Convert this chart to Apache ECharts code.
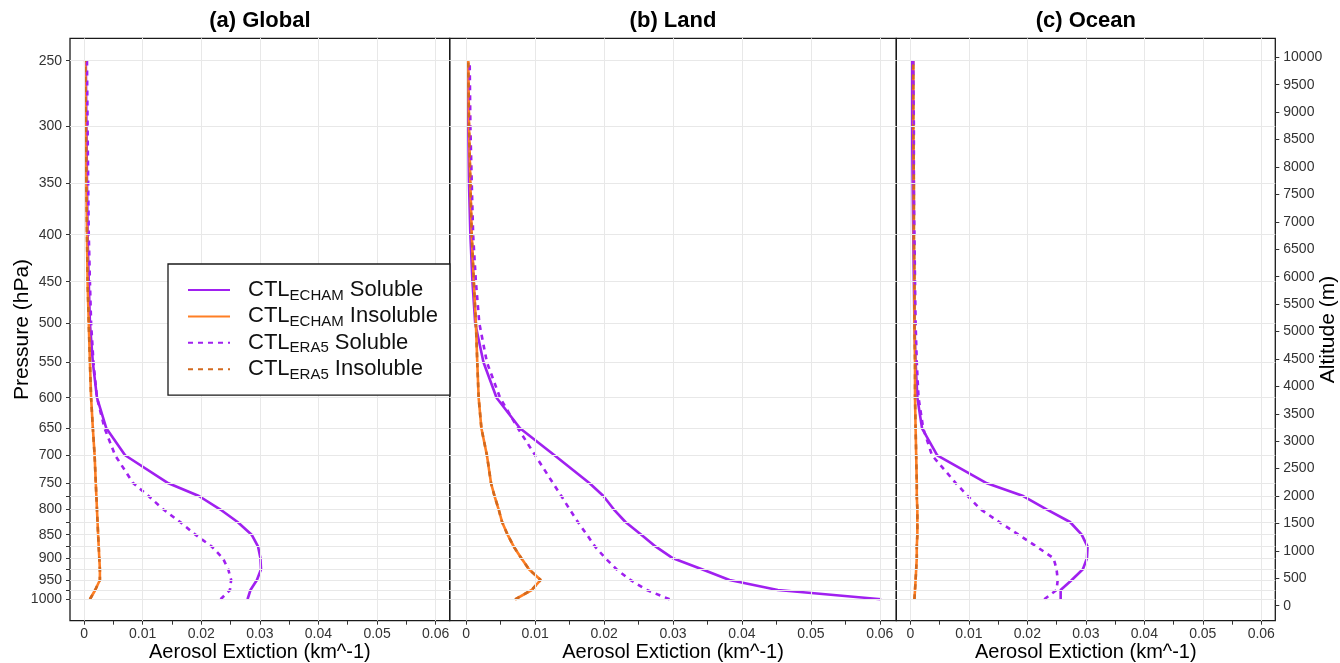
<!DOCTYPE html>
<html>
<head>
<meta charset="utf-8">
<script src="https://cdn.jsdelivr.net/npm/echarts@6/dist/echarts.min.js"></script>
<style>html,body{margin:0;padding:0;background:#fff;}#chart{width:1340px;height:663px;}</style>
</head>
<body>
<div id="chart"></div>
<script>
// ---- data (levels ordered from surface upward) ----
const pressureLevels = [1000, 975, 950, 925, 900, 875, 850, 825, 800, 775, 750, 700, 650, 600, 550, 500, 450, 400, 350, 300, 250];
const levelAltitude = [117, 286, 469, 664, 864, 1076, 1295, 1526, 1758, 2000, 2232, 2743, 3235, 3793, 4438, 5150, 5908, 6765, 7702, 8742, 9938];
const pressureTickLabels = [1000, 950, 900, 850, 800, 750, 700, 650, 600, 550, 500, 450, 400, 350, 300, 250];
const altitudeTicks = [0, 500, 1000, 1500, 2000, 2500, 3000, 3500, 4000, 4500, 5000, 5500, 6000, 6500, 7000, 7500, 8000, 8500, 9000, 9500, 10000];
const extinctionLabelTicks = [0, 0.01, 0.02, 0.03, 0.04, 0.05, 0.06];
const extinctionMinorTicks = [0, 0.005, 0.01, 0.015, 0.02, 0.025, 0.03, 0.035, 0.04, 0.045, 0.05, 0.055, 0.06];

const panelTitles = ['(a) Global', '(b) Land', '(c) Ocean'];
const seriesNames = ['CTL_ECHAM Soluble', 'CTL_ECHAM Insoluble', 'CTL_ERA5 Soluble', 'CTL_ERA5 Insoluble'];

// Global
const globalEchamSoluble   = [0.0279, 0.0284, 0.0295, 0.0302, 0.0301, 0.0297, 0.0286, 0.0262, 0.0232, 0.0196, 0.0144, 0.0070, 0.0038, 0.0022, 0.0015, 0.0010, 0.0008, 0.0006, 0.0005, 0.0004, 0.0003];
const globalEchamInsoluble = [0.0010, 0.0019, 0.0027, 0.0027, 0.0026, 0.0025, 0.0024, 0.0023, 0.0022, 0.0021, 0.0020, 0.0018, 0.0015, 0.0012, 0.0010, 0.0008, 0.0006, 0.0005, 0.0004, 0.0003, 0.0002];
const globalEra5Soluble    = [0.0233, 0.0249, 0.0251, 0.0246, 0.0237, 0.0218, 0.0190, 0.0164, 0.0135, 0.0110, 0.0084, 0.0053, 0.0035, 0.0022, 0.0016, 0.0012, 0.0010, 0.0008, 0.0007, 0.0006, 0.0005];
const globalEra5Insoluble  = [0.0010, 0.0019, 0.0027, 0.0027, 0.0026, 0.0025, 0.0024, 0.0023, 0.0022, 0.0021, 0.0020, 0.0018, 0.0015, 0.0012, 0.0010, 0.0008, 0.0006, 0.0005, 0.0004, 0.0003, 0.0002];
// Land
const landEchamSoluble     = [0.0602, 0.0452, 0.0382, 0.0342, 0.0300, 0.0275, 0.0254, 0.0231, 0.0214, 0.0199, 0.0179, 0.0128, 0.0078, 0.0044, 0.0025, 0.0013, 0.0009, 0.0006, 0.0004, 0.0003, 0.0002];
const landEchamInsoluble   = [0.0071, 0.0095, 0.0108, 0.0091, 0.0080, 0.0069, 0.0060, 0.0052, 0.0047, 0.0041, 0.0036, 0.0030, 0.0022, 0.0018, 0.0016, 0.0014, 0.0011, 0.0008, 0.0006, 0.0004, 0.0003];
const landEra5Soluble      = [0.0295, 0.0262, 0.0238, 0.0218, 0.0202, 0.0187, 0.0175, 0.0162, 0.0150, 0.0138, 0.0126, 0.0100, 0.0075, 0.0049, 0.0030, 0.0019, 0.0014, 0.0010, 0.0008, 0.0006, 0.0005];
const landEra5Insoluble    = [0.0071, 0.0095, 0.0108, 0.0091, 0.0080, 0.0069, 0.0060, 0.0052, 0.0047, 0.0041, 0.0036, 0.0030, 0.0022, 0.0018, 0.0016, 0.0014, 0.0011, 0.0008, 0.0006, 0.0004, 0.0003];
// Ocean
const oceanEchamSoluble    = [0.0257, 0.0257, 0.0276, 0.0295, 0.0302, 0.0303, 0.0293, 0.0273, 0.0233, 0.0193, 0.0131, 0.0046, 0.0020, 0.0012, 0.0009, 0.0007, 0.0006, 0.0005, 0.0004, 0.0003, 0.0003];
const oceanEchamInsoluble  = [0.0007, 0.0008, 0.0009, 0.0010, 0.0011, 0.0011, 0.0012, 0.0012, 0.0012, 0.0011, 0.0011, 0.0010, 0.0009, 0.0008, 0.0008, 0.0007, 0.0007, 0.0006, 0.0006, 0.0005, 0.0005];
const oceanEra5Soluble     = [0.0229, 0.0250, 0.0252, 0.0250, 0.0245, 0.0216, 0.0185, 0.0152, 0.0120, 0.0098, 0.0078, 0.0037, 0.0022, 0.0014, 0.0011, 0.0009, 0.0008, 0.0007, 0.0006, 0.0006, 0.0005];
const oceanEra5Insoluble   = [0.0007, 0.0008, 0.0009, 0.0010, 0.0011, 0.0011, 0.0012, 0.0012, 0.0012, 0.0011, 0.0011, 0.0010, 0.0009, 0.0008, 0.0008, 0.0007, 0.0007, 0.0006, 0.0006, 0.0005, 0.0005];

const panelData = [
  [globalEchamSoluble, globalEchamInsoluble, globalEra5Soluble, globalEra5Insoluble],
  [landEchamSoluble, landEchamInsoluble, landEra5Soluble, landEra5Insoluble],
  [oceanEchamSoluble, oceanEchamInsoluble, oceanEra5Soluble, oceanEra5Insoluble]
];

// ---- styling / layout ----
const FONT = '"Liberation Sans", Arial, sans-serif';
const seriesColors = ['#A020F0', '#FF7F24', '#A020F0', '#D2691E'];
const seriesDash = ['solid', 'solid', [5, 5], [5, 5]];
const gridBoxes = [
  { left: 70, width: 379.7 },
  { left: 449.7, width: 446.6 },
  { left: 896.3, width: 379 }
];
const TOP = 38.3, HEIGHT = 582.4;
const X_MIN = -0.0024, X_MAX = 0.0624;
const Y_MIN = -274, Y_MAX = 10347;

function pressureFor(alt) {
  for (let i = 0; i < levelAltitude.length; i++) {
    if (Math.abs(levelAltitude[i] - alt) < 0.5) return String(pressureLevels[i]);
  }
  return '';
}
const pressureLabelAlts = pressureTickLabels.map(p => levelAltitude[pressureLevels.indexOf(p)]);

const grids = gridBoxes.map(g => ({
  left: g.left, width: g.width, top: TOP, height: HEIGHT,
  outerBoundsMode: 'none', containLabel: false,
  show: true, borderColor: '#1a1a1a', borderWidth: 1.3, backgroundColor: 'transparent'
}));

const xAxes = gridBoxes.map((g, i) => ({
  type: 'value', gridIndex: i, min: X_MIN, max: X_MAX, position: 'bottom',
  name: 'Aerosol Extiction (km^-1)', nameLocation: 'middle', nameGap: 22, nameMoveOverlap: false,
  nameTextStyle: { fontFamily: FONT, fontSize: 20, color: '#000' },
  axisLine: { show: false, onZero: false },
  splitLine: { show: false },
  axisTick: { show: true, length: 4, customValues: extinctionMinorTicks, lineStyle: { color: '#333', width: 1 } },
  axisLabel: {
    customValues: extinctionLabelTicks, margin: 6,
    fontFamily: FONT, fontSize: 14, color: '#333',
    formatter: v => (v === 0 ? '0' : v.toFixed(2))
  }
}));

const yAxes = [
  {
    type: 'value', gridIndex: 0, min: Y_MIN, max: Y_MAX, position: 'left',
    name: 'Pressure (hPa)', nameLocation: 'middle', nameRotate: 90, nameGap: 37, nameMoveOverlap: false,
    nameTextStyle: { fontFamily: FONT, fontSize: 21, color: '#000' },
    axisLine: { show: false, onZero: false }, splitLine: { show: false },
    axisTick: { show: true, length: 4, customValues: levelAltitude, lineStyle: { color: '#333', width: 1 } },
    axisLabel: { customValues: pressureLabelAlts, margin: 8, fontFamily: FONT, fontSize: 14, color: '#333', formatter: v => pressureFor(v) }
  },
  {
    type: 'value', gridIndex: 1, min: Y_MIN, max: Y_MAX, show: false,
    axisLine: { show: false, onZero: false }
  },
  {
    type: 'value', gridIndex: 2, min: Y_MIN, max: Y_MAX, position: 'right',
    name: 'Altitude (m)', nameLocation: 'middle', nameRotate: 90, nameGap: 42, nameMoveOverlap: false,
    nameTextStyle: { fontFamily: FONT, fontSize: 21, color: '#000' },
    axisLine: { show: false, onZero: false }, splitLine: { show: false },
    axisTick: { show: true, length: 4, customValues: altitudeTicks, lineStyle: { color: '#333', width: 1 } },
    axisLabel: { customValues: altitudeTicks, margin: 8, fontFamily: FONT, fontSize: 14, color: '#333', formatter: v => String(v) }
  }
];

const series = [];
panelData.forEach((arrs, gi) => {
  // background grid lines at tick values (via the axes' own scales)
  series.push({
    type: 'line', xAxisIndex: gi, yAxisIndex: gi, data: [], silent: true, z: 1,
    markLine: {
      silent: true, symbol: ['none', 'none'], animation: false,
      label: { show: false },
      lineStyle: { color: '#E8E8E8', width: 1, type: 'solid' },
      emphasis: { disabled: true },
      data: extinctionMinorTicks.map(v => ({ xAxis: v })).concat(levelAltitude.map(a => ({ yAxis: a })))
    }
  });
  arrs.forEach((vals, si) => {
    series.push({
      name: seriesNames[si], type: 'line', xAxisIndex: gi, yAxisIndex: gi,
      data: vals.map((v, k) => [v, levelAltitude[k]]),
      showSymbol: false, symbol: 'none', z: 2, zlevel: 0,
      color: seriesColors[si],
      lineStyle: { color: seriesColors[si], width: 2.6, type: seriesDash[si] },
      emphasis: { disabled: true }
    });
  });
});

const titles = panelTitles.map((t, i) => ({
  text: t, left: gridBoxes[i].left + gridBoxes[i].width / 2 - 5, top: 5, textAlign: 'center',
  textStyle: { fontFamily: FONT, fontSize: 22, fontWeight: 'bold', color: '#000' }
}));

const legendRich = {
  m: { fontFamily: FONT, fontSize: 22, color: '#111', lineHeight: 26 },
  p: { fontFamily: FONT, fontSize: 22, color: '#111', lineHeight: 26, padding: [0, 0, 0, 13] },
  s: { fontFamily: FONT, fontSize: 15, color: '#111', lineHeight: 26, verticalAlign: 'bottom' }
};

const option = {
  animation: false,
  backgroundColor: '#fff',
  title: titles,
  grid: grids,
  xAxis: xAxes,
  yAxis: yAxes,
  legend: {
    data: seriesNames, z: 20,
    orient: 'vertical', left: 168, top: 264,
    backgroundColor: '#fff', borderColor: '#1a1a1a', borderWidth: 1.3,
    padding: [15, 12, 13, 19], itemGap: 2.4, itemWidth: 42, itemHeight: 14,
    selectedMode: false,
    itemStyle: { opacity: 0 },
    formatter: name => {
      const parts = name.split(' ');
      const sub = parts[0].split('_')[1];
      return '{p|CTL}{s|' + sub + '}{m| ' + parts[1] + '}';
    },
    textStyle: { rich: legendRich, fontFamily: FONT, fontSize: 22 }
  },
  series: series
};

const chart = echarts.init(document.getElementById('chart'), null, { renderer: 'canvas' });
chart.setOption(option);
</script>
</body>
</html>
